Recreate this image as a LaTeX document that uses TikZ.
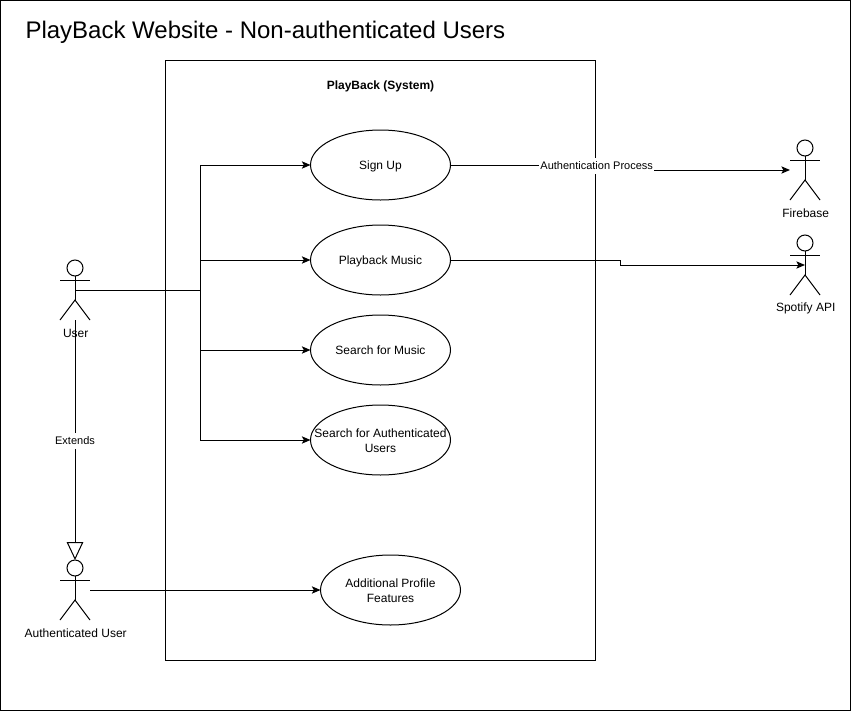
\documentclass[tikz,border=0pt]{standalone}
\usepackage{fontspec}
\setmainfont{Liberation Sans}
\usetikzlibrary{shapes}
\usetikzlibrary{positioning}
\usetikzlibrary{arrows.meta}

\tikzset{
    usecase/.style={draw, ellipse, font=\fontsize{9}{11.25}\selectfont, minimum width=105pt, minimum height=52.5pt, inner sep=0pt, outer sep=0pt},
    actorlabel/.style={font=\fontsize{9}{11.25}\selectfont, inner sep=0pt},
    edgelabel/.style={fill=white, font=\fontsize{8.25}{10}\selectfont, inner xsep=0.75pt, inner ysep=3pt, yshift=-0.5pt},
    assoc/.style={-{Stealth[length=6.5pt,width=5.5pt,inset=1.5pt]}},
    extends/.style={-{Triangle[length=13.5pt,width=12.5pt,fill=white]}}
}

% text of a use case, a little below the centre
\newcommand{\uctext}[2][0.75pt]{\raisebox{-#1}[\height][\depth]{\begin{tabular}{@{}c@{}}#2\end{tabular}}}

% stick figure: name, x, y of the head centre, label
\newcommand{\actorfig}[4]{
    \node[draw, circle, minimum size=12pt, inner sep=0pt, outer sep=0pt] (#1_head) at (#2,#3) {};
    \coordinate (#1_larm) at (#2-15,#3+12);
    \coordinate (#1_rarm) at (#2+15,#3+12);
    \coordinate (#1_armc) at (#2,#3+12);
    \coordinate (#1_waist) at (#2,#3+22);
    \coordinate (#1_crotch) at (#2,#3+32);
    \coordinate (#1_lfoot) at (#2-15,#3+52);
    \coordinate (#1_foot) at (#2,#3+52);
    \coordinate (#1_rfoot) at (#2+15,#3+52);
    \draw (#1_head.south) -- (#1_crotch);
    \draw (#1_larm) -- (#1_rarm);
    \draw (#1_lfoot) -- (#1_crotch) -- (#1_rfoot);
    \node[actorlabel] (#1_label) at (#2+0.7,#3+65.7) {#4};
}

\begin{document}
\begin{tikzpicture}[x=0.75pt, y=-0.75pt, line width=0.75pt]
    \useasboundingbox (0,0) rectangle (851,711);
    \draw (0.5,0.5) rectangle (850.5,710.5);
    \node[anchor=west, inner sep=0pt, font=\fontsize{18}{22}\selectfont] (title) at (25,32) {PlayBack Website - Non-authenticated Users};

    \node[draw, minimum width=322.5pt, minimum height=450pt, inner sep=0pt, outer sep=0pt] (system) at (380,360) {};
    \node[font=\fontsize{9}{11}\selectfont\bfseries, inner sep=0pt] (system_label) at (380.5,86.7) {PlayBack (System)};

    \node[usecase] (signup) at (380.5,165) {\uctext{Sign Up}};
    \node[usecase] (playback) [below=18.75pt of signup] {\uctext{Playback Music}};
    \node[usecase] (search) [below=15pt of playback] {\uctext{Search for Music}};
    \node[usecase] (search_auth) [below=15pt of search] {\uctext[1.5pt]{\makebox[0pt]{Search for Authenticated}\\Users}};
    \node[usecase] (profile) at (390.5,590) {\uctext[1.5pt]{Additional Profile\\Features}};

    \actorfig{user}{75}{268}{User}
    \actorfig{authuser}{75}{568}{Authenticated User}
    \actorfig{firebase}{805}{148}{Firebase}
    \actorfig{spotify}{805}{243}{Spotify API}

    \coordinate (trunk) at (200,290);
    \draw (user_waist) -- (trunk);
    \draw[assoc] (trunk) |- (signup.west);
    \draw[assoc] (trunk) |- (playback.west);
    \draw[assoc] (trunk) |- (search.west);
    \draw[assoc] (trunk) |- (search_auth.west);

    \coordinate (authuser_start) at (90,590);
    \draw[assoc] (authuser_start) -- (profile.west);

    \draw[extends] (user_foot) -- node[edgelabel] (extends_label) {Extends} (authuser_head.north);

    \coordinate (signup_bend1) at (620.5,165);
    \coordinate (signup_bend2) at (620.5,170);
    \coordinate (firebase_end) at (790,170);
    \draw[assoc] (signup.east) -- node[edgelabel, pos=0.86] (auth_label) {Authentication Process} (signup_bend1) -- (signup_bend2) -- (firebase_end);

    \coordinate (playback_bend1) at (620.5,260);
    \coordinate (playback_bend2) at (620.5,265);
    \draw[assoc] (playback.east) -- (playback_bend1) -- (playback_bend2) -- (spotify_waist);
\end{tikzpicture}
\end{document}
